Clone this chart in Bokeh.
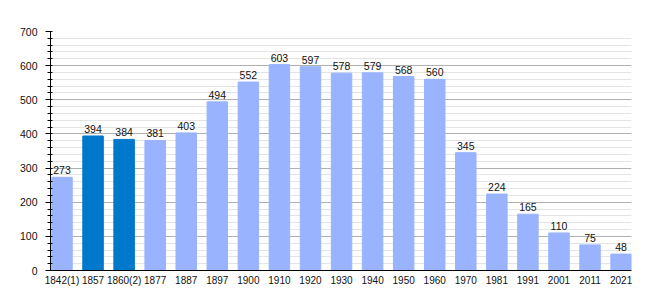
from bokeh.plotting import figure
from bokeh.models import ColumnDataSource, Range1d, FixedTicker, LabelSet
from bokeh.core.properties import value
from bokeh.embed import file_html
from bokeh.resources import INLINE

years = ["1842(1)", "1857", "1860(2)", "1877", "1887", "1897", "1900", "1910", "1920", "1930",
         "1940", "1950", "1960", "1970", "1981", "1991", "2001", "2011", "2021"]
population = [273, 394, 384, 381, 403, 494, 552, 603, 597, 578, 579, 568, 560, 345, 224, 165, 110, 75, 48]
highlight = [False, True, True] + [False] * 16

idx = list(range(len(years)))
colors = ["#0078cc" if h else "#99b3ff" for h in highlight]
src = ColumnDataSource(dict(x=idx, y=population, c=colors, t=[str(v) for v in population]))

p = figure(width=660, height=300, x_range=Range1d(-0.37, 18.335),
           y_range=Range1d(0, 700), output_backend="svg", toolbar_location=None,
           min_border_left=50, min_border_right=29, min_border_top=31, min_border_bottom=30)
p.outline_line_color = None
p.vbar(x="x", top="y", width=0.66, color="c", source=src)

labels = LabelSet(x="x", y="y", text="t", source=src, text_align="center", text_baseline="bottom",
                  y_offset=3, text_font_size=value("10.5px"), text_font=value("Liberation Sans"),
                  text_color="#111111")
p.add_layout(labels)

p.xgrid.grid_line_color = None
p.ygrid.grid_line_color = "#b0b0b0"
p.ygrid.minor_grid_line_color = "#e4e4e4"
p.yaxis.ticker = FixedTicker(ticks=list(range(0, 701, 100)),
                             minor_ticks=list(range(0, 701, 20)))
p.yaxis.major_label_text_font = "Liberation Sans"
p.yaxis.major_label_text_font_size = "10.5px"
p.yaxis.major_label_text_color = "#111111"
p.yaxis.major_label_standoff = 8
p.yaxis.major_tick_out = 5
p.yaxis.major_tick_in = 0
p.yaxis.minor_tick_out = 3
p.yaxis.minor_tick_in = 2
p.yaxis.axis_line_color = "black"

p.xaxis.ticker = FixedTicker(ticks=idx)
p.xaxis.major_label_overrides = {i: y for i, y in zip(idx, years)}
p.xaxis.major_tick_line_color = None
p.xaxis.major_tick_out = 0
p.xaxis.major_tick_in = 0
p.xaxis.minor_tick_line_color = None
p.xaxis.major_label_text_font = "Liberation Sans"
p.xaxis.major_label_text_font_size = "10px"
p.xaxis.major_label_text_color = "#111111"
p.xaxis.major_label_standoff = 4
p.xaxis.axis_line_color = "black"

open("out.html", "w").write(file_html(p, INLINE))
